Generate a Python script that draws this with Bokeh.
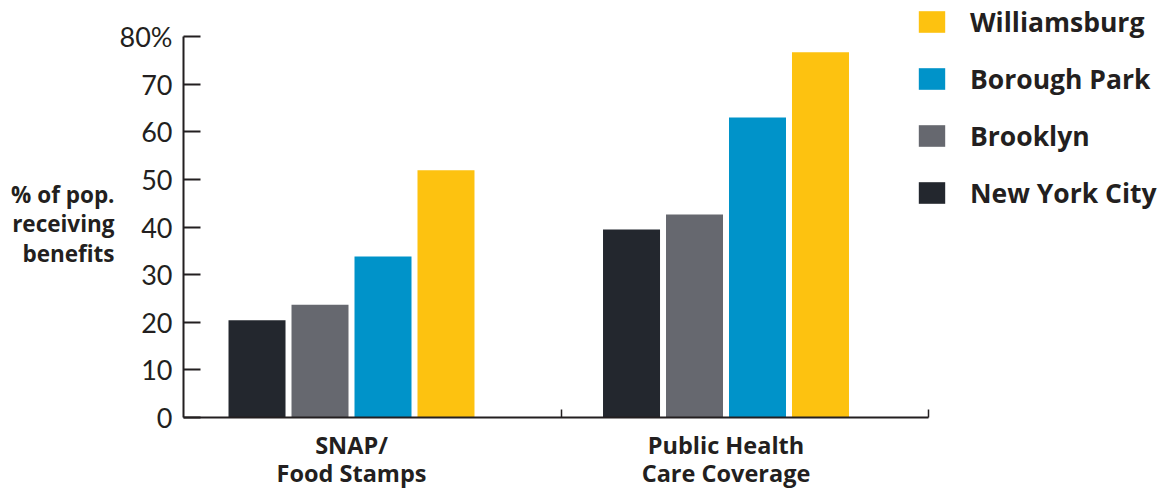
from bokeh.plotting import figure
from bokeh.models import FixedTicker, Legend, LegendItem, Range1d
from bokeh.embed import file_html
from bokeh.resources import INLINE

categories = ["SNAP/\nFood Stamps", "Public Health\nCare Coverage"]
series = ["New York City", "Brooklyn", "Borough Park", "Williamsburg"]
values = {
    "New York City": [20.4, 39.5],
    "Brooklyn": [23.7, 42.6],
    "Borough Park": [33.8, 63.0],
    "Williamsburg": [51.9, 76.7],
}
colors = {
    "New York City": "#23272E",
    "Brooklyn": "#66686F",
    "Borough Park": "#0093C9",
    "Williamsburg": "#FDC210",
}
y_ticks = [0, 10, 20, 30, 40, 50, 60, 70, 80]
y_title = "\n% of pop.\nreceiving\nbenefits"

TEXT = "#231F20"
FONT = "Lato"
BFONT = "Open Sans"

W, H = 1160, 492
p = figure(width=W, height=H, output_backend="svg", toolbar_location=None,
           x_range=Range1d(-0.4486, 2.1602), y_range=Range1d(0, 87.56),
           min_border_left=183, min_border_right=0,
           min_border_top=0, min_border_bottom=75)
p.outline_line_color = None
p.xgrid.visible = False
p.ygrid.visible = False
p.background_fill_color = "white"
p.border_fill_color = "white"

step = 0.1682
bw = 0.1522
renderers = {}
for i, s in enumerate(series):
    xs = [g + (i - 1.5) * step for g in range(len(categories))]
    r = p.vbar(x=xs, top=values[s], width=bw, bottom=0,
               fill_color=colors[s], line_color=None)
    renderers[s] = r

# x axis
xa = p.xaxis[0]
xa.bounds = (-0.4486, 1.5407)
xa.ticker = FixedTicker(ticks=[0, 1], minor_ticks=[0.5607, 1.5407])
xa.major_label_overrides = {0: categories[0], 1: categories[1]}
xa.major_tick_in = 0
xa.major_tick_out = 0
xa.minor_tick_in = 8
xa.minor_tick_out = 0
xa.minor_tick_line_color = TEXT
xa.minor_tick_line_width = 1.5
xa.axis_line_color = TEXT
xa.axis_line_width = 2
xa.major_label_text_font = BFONT
xa.major_label_text_font_style = "bold"
xa.major_label_text_font_size = "23.5px"
xa.major_label_text_color = TEXT
xa.major_label_text_line_height = 0.9
xa.major_label_standoff = 11

# y axis
ya = p.yaxis[0]
ya.bounds = (0, 80)
ya.ticker = FixedTicker(ticks=y_ticks)
ya.major_label_overrides = {80: "80%"}
ya.major_tick_in = 17
ya.major_tick_out = 0
ya.minor_tick_in = 0
ya.minor_tick_out = 0
ya.major_tick_line_color = TEXT
ya.major_tick_line_width = 2
ya.axis_line_color = TEXT
ya.axis_line_width = 2
ya.major_label_text_font = FONT
ya.major_label_text_font_size = "27px"
ya.major_label_text_color = TEXT
ya.major_label_standoff = 11
ya.axis_label = y_title
ya.axis_label_orientation = "horizontal"
ya.axis_label_text_font = BFONT
ya.axis_label_text_font_style = "bold"
ya.axis_label_text_font_size = "22.5px"
ya.axis_label_text_color = TEXT
ya.axis_label_text_line_height = 0.95
ya.axis_label_text_align = "left"
ya.axis_label_standoff = 2

legend = Legend(items=[LegendItem(label=s, renderers=[renderers[s]])
                       for s in reversed(series)],
                location=(732, 206), orientation="vertical")
legend.glyph_width = 33
legend.glyph_height = 27
legend.label_height = 37
legend.spacing = 20
legend.padding = 0
legend.margin = 0
legend.label_standoff = 22
legend.border_line_color = None
legend.background_fill_alpha = 0
legend.label_text_font = BFONT
legend.label_text_font_style = "bold"
legend.label_text_font_size = "26.5px"
legend.label_text_color = TEXT
legend.label_text_baseline = "middle"
p.add_layout(legend, "center")

open("out.html", "w").write(file_html(p, INLINE))
